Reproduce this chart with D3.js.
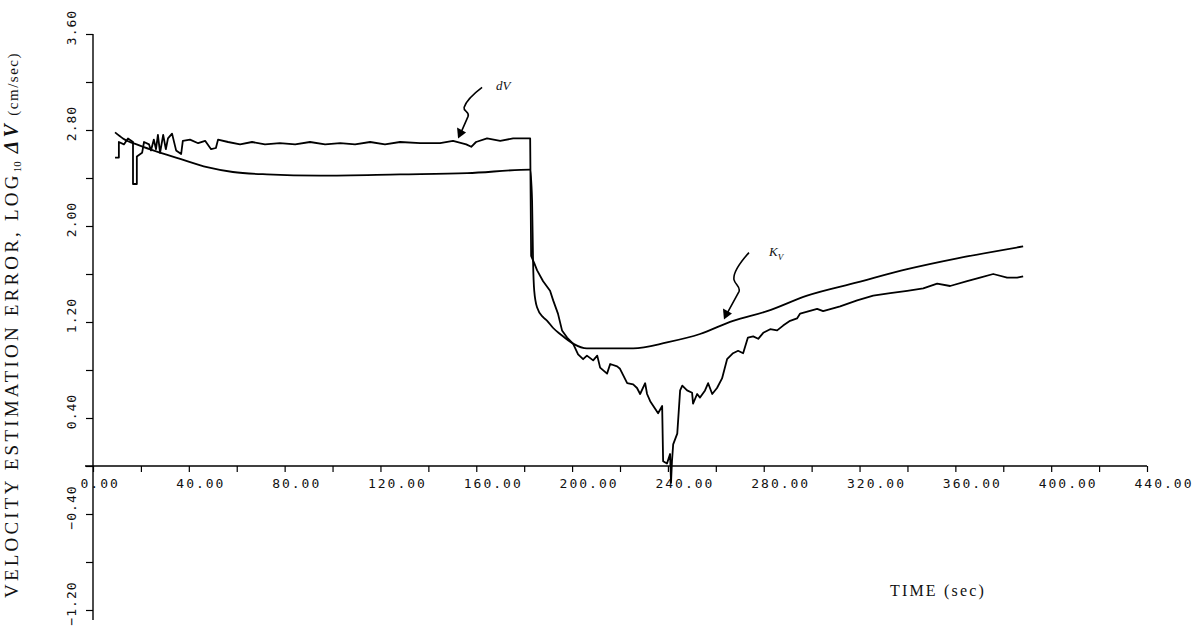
<!DOCTYPE html>
<html>
<head>
<meta charset="utf-8">
<script src="https://cdn.jsdelivr.net/npm/d3@7"></script>
<style>
  body { margin: 0; background: #fff; }
  svg { display: block; }
</style>
</head>
<body>
<svg id="chart" width="1202" height="629"></svg>
<script>
// ---- data ----
// tick values
const xTickValues = [0, 20, 40, 60, 80, 100, 120, 140, 160, 180, 200, 220, 240, 260, 280, 300, 320, 340, 360, 380, 400, 420, 440];
const xLabelValues = [0, 40, 80, 120, 160, 200, 240, 280, 320, 360, 400, 440];
const yTickValues = [-1.2, -0.8, -0.4, 0, 0.4, 0.8, 1.2, 1.6, 2.0, 2.4, 2.8, 3.2, 3.6];
const yLabelValues = [-1.2, -0.4, 0.4, 1.2, 2.0, 2.8, 3.6];

// measured error dV (log10 cm/sec) versus time (sec)
const dvTime = [9.2, 10.8, 10.8, 12.9, 14.6, 16.7, 16.7, 18.3, 18.3, 20.5, 21.3, 23.4, 24.2, 25.4, 26.3, 27.1, 28.0, 29.3, 30.4, 31.3,
  33.0, 34.7, 36.8, 37.5, 40.5, 43.9, 46.8, 49.3, 51.3, 52.2, 56.4, 61.4, 66.4, 71.8, 78.0, 84.4, 90.6, 96.9, 103.2, 109.4,
  115.7, 121.9, 128.2, 136.6, 144.9, 150.3, 155.8, 157.9, 159.9, 164.5, 170.0, 175.4, 179.5, 182.5, 182.9, 184.2, 185.4, 187.9, 190.8, 192.1,
  194.1, 195.8, 197.9, 200.4, 202.5, 204.6, 206.2, 208.8, 210.5, 211.7, 214.6, 215.9, 218.8, 220.0, 223.0, 225.5, 227.1, 228.4, 230.5, 231.3,
  232.6, 234.6, 235.9, 237.6, 238.0, 239.6, 240.9, 241.3, 241.7, 242.2, 243.9, 245.1, 246.0, 248.0, 250.1, 250.5, 252.2, 253.4, 255.5, 256.8, 258.5,
  260.5, 262.6, 264.7, 267.2, 269.3, 271.4, 273.4, 275.6, 277.7, 279.8, 282.7, 285.6, 288.1, 291.0, 293.9, 295.2, 302.3, 304.8, 311.9, 319.0,
  325.7, 332.8, 339.9, 346.6, 352.4, 357.8, 364.9, 370.3, 375.8, 381.6, 385.8, 388.3];
const dvValue = [2.57, 2.57, 2.70, 2.68, 2.73, 2.70, 2.35, 2.35, 2.58, 2.61, 2.70, 2.68, 2.63, 2.72, 2.64, 2.76, 2.61, 2.76, 2.64, 2.73,
  2.77, 2.63, 2.60, 2.71, 2.72, 2.69, 2.71, 2.64, 2.65, 2.72, 2.70, 2.68, 2.70, 2.68, 2.69, 2.68, 2.70, 2.68, 2.69, 2.68,
  2.70, 2.68, 2.70, 2.69, 2.69, 2.71, 2.68, 2.66, 2.70, 2.73, 2.71, 2.73, 2.73, 2.73, 1.75, 1.69, 1.63, 1.54, 1.46, 1.38,
  1.27, 1.13, 1.07, 1.02, 0.93, 0.89, 0.92, 0.88, 0.92, 0.82, 0.77, 0.85, 0.83, 0.81, 0.69, 0.68, 0.65, 0.60, 0.69, 0.60,
  0.54, 0.48, 0.44, 0.50, 0.04, 0.02, 0.10, -0.14, 0.04, 0.18, 0.27, 0.63, 0.67, 0.63, 0.61, 0.52, 0.60, 0.57, 0.63, 0.69, 0.60,
  0.65, 0.73, 0.89, 0.94, 0.96, 0.94, 1.07, 1.08, 1.06, 1.11, 1.14, 1.13, 1.17, 1.21, 1.23, 1.27, 1.31, 1.29, 1.33, 1.38,
  1.42, 1.44, 1.46, 1.48, 1.52, 1.50, 1.54, 1.57, 1.60, 1.57, 1.57, 1.58];

// predicted error bound K_V versus time (sec)
const kvTime = [9.2, 12.5, 19.6, 26.7, 36.4, 47.6, 58.4, 72.6, 94.8, 128.2, 156.2, 182.5, 183.3, 183.7, 184.2, 185.4, 187.9, 189.6, 192.1, 195.0,
  200.4, 206.2, 211.7, 225.5, 239.6, 253.4, 267.2, 281.4, 298.1, 319.0, 339.9, 360.8, 388.3];
const kvValue = [2.78, 2.73, 2.67, 2.62, 2.56, 2.49, 2.45, 2.43, 2.42, 2.43, 2.44, 2.47, 2.21, 1.71, 1.46, 1.32, 1.24, 1.21, 1.15, 1.10,
  1.02, 0.98, 0.98, 0.98, 1.03, 1.10, 1.21, 1.29, 1.42, 1.53, 1.64, 1.73, 1.83];

// curve annotations: text and the point the arrow touches
const annoText = ["dV", "K"];
const annoSub = ["", "V"];
const annoTime = [152.4, 263.4];
const annoValue = [2.73, 1.22];

// ---- drawing ----
const svg = d3.select("#chart");
const x = d3.scaleLinear().domain([0, 440]).range([93, 1147]);
const y = d3.scaleLinear().domain([-1.2, 3.6]).range([610, 34]);
const fmt = d3.format(".2f");
const monoFont = "'DejaVu Sans Mono', 'Liberation Mono', monospace";
const serifFont = "'Liberation Serif', 'DejaVu Serif', serif";

// x axis along the zero line; plotter-style labels start one character left of the tick
const xAxis = d3.axisBottom(x)
  .tickValues(xTickValues)
  .tickFormat(d => xLabelValues.includes(d) ? fmt(d) : "")
  .tickSize(6).tickSizeOuter(0);
const gx = svg.append("g").attr("transform", `translate(0,${y(0)})`).call(xAxis);
gx.select(".domain").attr("d", `M${x(0) - 8},0H${x(440)}`).attr("stroke-width", 1.4);
gx.selectAll(".tick line").attr("stroke-width", 1.2);
gx.selectAll(".tick text")
  .attr("y", 13).attr("x", -13)
  .attr("text-anchor", "start")
  .attr("font-family", monoFont).attr("font-size", 13).attr("fill", "#111")
  .attr("letter-spacing", 2);

// y axis
const yAxis = d3.axisLeft(y)
  .tickValues(yTickValues)
  .tickFormat(d => yLabelValues.some(v => Math.abs(v - d) < 1e-9) ? fmt(d) : "")
  .tickSize(7).tickSizeOuter(0);
const gy = svg.append("g").attr("transform", `translate(${x(0)},0)`).call(yAxis);
gy.select(".domain").attr("d", `M0,${y(3.6)}V${y(-1.2) + 10}`).attr("stroke-width", 1.4);
gy.selectAll(".tick line").attr("stroke-width", 1.2);
gy.selectAll(".tick text")
  .attr("x", null).attr("dy", null)
  .attr("text-anchor", "middle")
  .attr("transform", "translate(-17,-7) rotate(-90)")
  .attr("font-family", monoFont).attr("font-size", 13).attr("fill", "#111")
  .attr("letter-spacing", 1);

// curves
const kvPts = kvTime.map((t, i) => [t, kvValue[i]]);
const dvPts = dvTime.map((t, i) => [t, dvValue[i]]);
svg.append("path").datum(kvPts)
  .attr("d", d3.line().x(d => x(d[0])).y(d => y(d[1])).curve(d3.curveMonotoneX))
  .attr("fill", "none").attr("stroke", "#000").attr("stroke-width", 1.8);
svg.append("path").datum(dvPts)
  .attr("d", d3.line().x(d => x(d[0])).y(d => y(d[1])))
  .attr("fill", "none").attr("stroke", "#000").attr("stroke-width", 1.8)
  .attr("stroke-linejoin", "round");

// axis titles
svg.append("text")
  .attr("transform", `translate(18,${(y(3.6) + y(-1.2)) / 2 + 3}) rotate(-90)`)
  .attr("text-anchor", "middle")
  .attr("font-family", serifFont).attr("font-size", 19).attr("fill", "#111")
  .attr("letter-spacing", 3.2)
  .call(t => {
    t.append("tspan").text("VELOCITY ESTIMATION ERROR, LOG");
    t.append("tspan").text("10").attr("font-size", 11).attr("dy", 3).attr("letter-spacing", 0);
    t.append("tspan").text(" ΔV").attr("dy", -3).attr("font-weight", "bold").attr("font-style", "italic").attr("font-size", 20);
    t.append("tspan").text(" (cm/sec)").attr("font-size", 15).attr("letter-spacing", 1.5);
  });

svg.append("text")
  .attr("x", 938).attr("y", 596)
  .attr("text-anchor", "middle")
  .attr("font-family", serifFont).attr("font-size", 16).attr("fill", "#111")
  .attr("letter-spacing", 2.2)
  .text("TIME  (sec)");

// arrows pointing at the curves
const squiggles = [
  "M24,-51 C16,-45 8,-37 6,-31 C5,-27 12,-27 10,-22 L3,-6",
  "M25,-67 C16,-57 9,-47 10,-40 C11,-35 17,-33 15,-28 L3,-6"
];
const labelOffset = [[38, -48], [45, -64]];
annoText.forEach((txt, i) => {
  const px = x(annoTime[i]), py = y(annoValue[i]);
  const g = svg.append("g").attr("transform", `translate(${px},${py})`);
  g.append("path").attr("d", squiggles[i])
    .attr("fill", "none").attr("stroke", "#000").attr("stroke-width", 1.6);
  g.append("path").attr("d", "M0,0 L-1,-11 L8,-6 Z").attr("fill", "#000");
  const t = g.append("text")
    .attr("x", labelOffset[i][0]).attr("y", labelOffset[i][1])
    .attr("font-family", serifFont).attr("font-style", "italic")
    .attr("font-size", 13).attr("fill", "#111").text(txt);
  if (annoSub[i]) t.append("tspan").attr("dy", 4).attr("font-size", 9).text(annoSub[i]);
});
</script>
</body>
</html>
